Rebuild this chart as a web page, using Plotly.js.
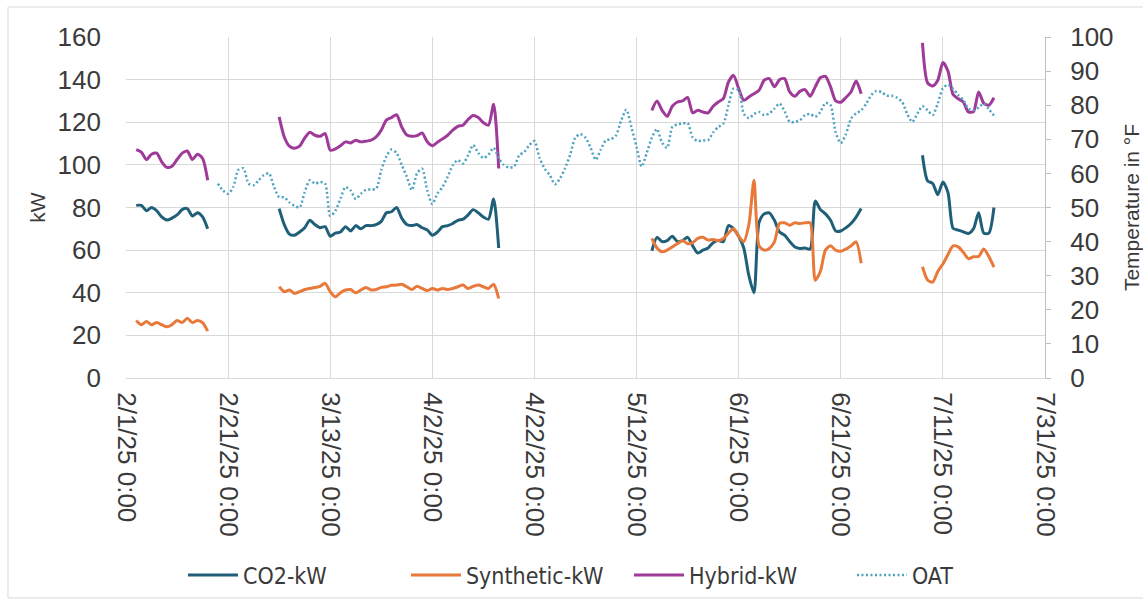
<!DOCTYPE html>
<html>
<head>
<meta charset="utf-8">
<script src="https://cdn.plot.ly/plotly-3.0.1.min.js"></script>
<style>
  html, body { margin: 0; padding: 0; background: #ffffff; }
  #chart { width: 1143px; height: 609px; }
</style>
</head>
<body>
<div id="chart"></div>
<script>
// Daily average demand (kW) for each refrigeration system, logged in four runs.
const co2Seg1 = [81, 81, 78.5, 80, 78.5, 75.6, 74.1, 75, 76.5, 79, 79.5, 76, 77.5, 75.6, 70];
const co2Seg2 = [79.5, 72, 67.5, 67, 68.5, 70.5, 74, 72, 70.5, 71, 66.5, 68, 68.5, 71, 69, 71.5,
  70, 71.5, 71.5, 72, 73.5, 77.5, 78, 80, 75, 72, 71.5, 72, 70.5, 69.5, 67, 68.5, 71, 71.5,
  72.5, 74, 74.5, 76.5, 79, 77.5, 75.5, 74.5, 84, 61];
const co2Seg3 = [59.7, 66, 64, 64.5, 66.5, 64, 64.5, 66, 62, 58.6, 60, 61, 63.5, 64.5, 64, 71.5,
  70, 66.5, 61, 48, 40, 73, 77, 77.5, 74, 68.5, 67, 64, 61.5, 60.8, 61, 60.5, 83, 79, 77, 74,
  69, 69, 70.5, 72.5, 75.5, 79.5];
const co2Seg4 = [104.5, 92.5, 91.3, 86, 92, 87, 70.2, 69.4, 68.6, 67.8, 70, 77.5, 68, 68, 80];

const synSeg1 = [27, 25, 26.5, 25, 26, 25, 24, 25, 27, 26, 28, 26, 27, 26, 22];
const synSeg2 = [42.8, 40.5, 41.3, 39.7, 40.5, 41.5, 42, 42.5, 43, 44.4, 40.5, 38.1, 40, 41.3,
  41.5, 40, 41.3, 42.5, 41.3, 41.5, 42.5, 42.8, 43.5, 43.6, 44, 42.8, 41.5, 43, 42, 41, 42,
  41.3, 42, 41.5, 42, 42.8, 43.6, 42, 43, 43.6, 42.8, 42, 44, 37.3];
const synSeg3 = [65.5, 61, 59.2, 60, 61.5, 63, 64.5, 63, 63.5, 65.5, 66, 64.7, 65, 64.5, 65.5,
  68, 70, 66.5, 64, 72, 92.8, 62, 60, 60.8, 63.9, 72.5, 72.8, 71.7, 72.8, 72.5, 72.8, 72.8,
  45.9, 50, 60, 62, 60, 59.5, 60.5, 62, 63.9, 53.8];
const synSeg4 = [52.2, 46, 45, 50, 53.5, 58, 62, 61.5, 59, 56, 56.9, 57, 60.5, 57, 52];

const hybSeg1 = [107.2, 106, 102.5, 105, 105.5, 101.4, 98.8, 99.4, 102.5, 105.5, 106.5, 102.5,
  105, 103, 92.8];
const hybSeg2 = [122.5, 113.1, 108.8, 107.8, 108.8, 112.6, 115.3, 113.9, 113.4, 114.7, 106.9,
  107.5, 109, 110.8, 110.3, 111.6, 110.8, 111.1, 111.6, 113.1, 116.3, 121, 122.2, 123.5, 117.8,
  114, 113.4, 113.7, 115, 110.8, 109, 110.6, 112.2, 113.9, 116.3, 118.1, 118.6, 121.3, 123.2,
  122.2, 119.8, 118.6, 128.4, 98.3];
const hybSeg3 = [125.6, 130, 125.6, 122.8, 127.5, 129.5, 130, 131.6, 124.4, 125.6, 124.8, 124.4,
  127.5, 129.5, 131.1, 138.9, 142, 135.8, 130.3, 131.9, 133.4, 135, 139.7, 140.5, 136.6, 140,
  140.5, 134.2, 132.2, 134.5, 135.3, 132.2, 136.6, 140.9, 141.5, 136.6, 130, 129.4, 131.6,
  134.2, 139.3, 133.4];
const hybSeg4 = [157.2, 138.5, 137, 139.7, 148, 144, 133, 131, 129.5, 124.8, 125, 134.2, 129,
  128, 131.5];

// First day of each logging run.
const segStarts = ['2025-02-03', '2025-03-03', '2025-05-15', '2025-07-07'];

// Outside air temperature (°F), daily.
const oatStart = '2025-02-19';
const oatTemp = [57, 55, 54, 56, 61, 61.5, 57, 56.5, 58, 59.5, 60, 56, 53, 53, 51.5, 50.5, 50,
  54.5, 58, 57, 57.5, 57, 47.5, 49, 52.6, 56, 55, 52.5, 54, 55.2, 55.3, 55.5, 61, 65, 67, 66,
  62.5, 59, 55.1, 60, 61.4, 55, 51, 54.1, 56, 59, 62.4, 63.9, 62.9, 65.3, 68.3, 66, 64.5, 65.5,
  67.5, 64.5, 62.5, 61.7, 62, 65.3, 66.3, 68.3, 69.5, 64.5, 61.4, 59.5, 56.8, 58.5, 61.5, 65.5,
  70.5, 71.5, 70.5, 67.5, 64, 67, 69.7, 70, 71.2, 75.6, 78.7, 73.5, 67.8, 62, 66, 70.5, 73,
  69, 67.5, 73.6, 74.4, 74.6, 74.8, 70.5, 69.5, 69.7, 69.7, 72, 73.6, 74.6, 80, 84.9, 84.4,
  77.5, 76.2, 77.4, 78, 77.1, 77.6, 79, 80.5, 78.2, 75.1, 75.1, 75.6, 77.1, 77.4, 76.6, 78,
  80.7, 80, 72, 68.9, 71.5, 76, 77.6, 78.5, 80.5, 83, 84.2, 83.8, 82.8, 82.8, 82.2, 81, 77.5,
  75.1, 77.5, 79.7, 78.5, 77.1, 80.5, 85, 86, 84.8, 83, 81.5, 79, 78.5, 79.3, 80.5, 78.8, 77];

// Axis ticks every 20 days.
const tickDates = ['2025-02-01', '2025-02-21', '2025-03-13', '2025-04-02', '2025-04-22',
  '2025-05-12', '2025-06-01', '2025-06-21', '2025-07-11', '2025-07-31'];
const tickLabels = ['2/1/25 0:00', '2/21/25 0:00', '3/13/25 0:00', '4/2/25 0:00', '4/22/25 0:00',
  '5/12/25 0:00', '6/1/25 0:00', '6/21/25 0:00', '7/11/25 0:00', '7/31/25 0:00'];

function dayOffset(iso, n) {
  const d = new Date(iso + 'T00:00:00Z');
  d.setUTCDate(d.getUTCDate() + n);
  return d.toISOString().slice(0, 10);
}

// Joins daily runs into one series, with a null break between runs.
function joinRuns(starts, runs) {
  const x = [], y = [];
  runs.forEach((vals, r) => {
    vals.forEach((v, i) => { x.push(dayOffset(starts[r], i)); y.push(v); });
    if (r < runs.length - 1) { x.push(dayOffset(starts[r], vals.length)); y.push(null); }
  });
  return { x, y };
}

const co2 = joinRuns(segStarts, [co2Seg1, co2Seg2, co2Seg3, co2Seg4]);
const syn = joinRuns(segStarts, [synSeg1, synSeg2, synSeg3, synSeg4]);
const hyb = joinRuns(segStarts, [hybSeg1, hybSeg2, hybSeg3, hybSeg4]);
const oat = joinRuns([oatStart], [oatTemp]);

const textColor = '#3a3a3a';
const tickFont = { family: 'Liberation Sans, Arial, sans-serif', size: 26, color: textColor };
const gridGray = '#d9d9d9';

const lineTrace = (name, s, color) => ({
  type: 'scatter', mode: 'lines', name, x: s.x, y: s.y, connectgaps: false,
  line: { color, width: 3, shape: 'spline', smoothing: 0.7 }
});

const traces = [
  lineTrace('CO2-kW', co2, '#1f5f78'),
  lineTrace('Synthetic-kW', syn, '#e8793a'),
  lineTrace('Hybrid-kW', hyb, '#9e3a98'),
  {
    type: 'scatter', mode: 'lines', name: 'OAT', x: oat.x, y: oat.y, yaxis: 'y2',
    line: { color: '#4fa3c0', width: 2.5, dash: '2px,2.5px', shape: 'spline', smoothing: 0.7 }
  }
];

const layout = {
  width: 1143, height: 609,
  margin: { l: 126, r: 98, t: 37, b: 231 },
  paper_bgcolor: '#ffffff', plot_bgcolor: '#ffffff',
  showlegend: true,
  legend: {
    orientation: 'h', x: 0.062, xanchor: 'left', y: -0.578, yanchor: 'middle',
    font: { family: 'Liberation Sans Narrow, DejaVu Sans Condensed, sans-serif', size: 23, color: textColor },
    itemwidth: 50, entrywidth: 158, entrywidthmode: 'pixels',
    traceorder: 'normal', bgcolor: 'rgba(0,0,0,0)'
  },
  xaxis: {
    type: 'date', range: ['2025-02-01', '2025-07-31'],
    tickmode: 'array', tickvals: tickDates, ticktext: tickLabels, tickangle: 90,
    tickfont: tickFont, showgrid: true, gridcolor: gridGray, gridwidth: 1,
    showline: true, linecolor: gridGray, linewidth: 1, ticks: '', zeroline: false,
    ticklabelstandoff: 8, fixedrange: true
  },
  yaxis: {
    range: [0, 160], tickmode: 'linear', tick0: 0, dtick: 20,
    tickfont: tickFont, showgrid: true, gridcolor: gridGray, gridwidth: 1,
    showline: false, ticks: '', zeroline: false, ticklabelstandoff: 24,
    title: { text: 'kW', font: { family: 'Liberation Sans, Arial, sans-serif', size: 21, color: textColor }, standoff: 6 }
  },
  yaxis2: {
    overlaying: 'y', side: 'right', range: [0, 100], tickmode: 'linear', tick0: 0, dtick: 10,
    tickfont: tickFont, showgrid: false, zeroline: false,
    showline: true, linecolor: '#bfbfbf', linewidth: 1,
    ticks: 'outside', ticklen: 5, tickcolor: '#bfbfbf', ticklabelstandoff: 14,
    title: { text: 'Temperature in °F', font: { family: 'Liberation Sans, Arial, sans-serif', size: 21, color: textColor }, standoff: 18 }
  },
  shapes: [{
    type: 'rect', xref: 'paper', yref: 'paper',
    x0: -0.1284, x1: 1.12, y0: -0.645, y1: 1.088,
    line: { color: '#d9d9d9', width: 1 }, fillcolor: 'rgba(0,0,0,0)', layer: 'below'
  }]
};

Plotly.newPlot('chart', traces, layout, { displayModeBar: false, staticPlot: true });
</script>
</body>
</html>
